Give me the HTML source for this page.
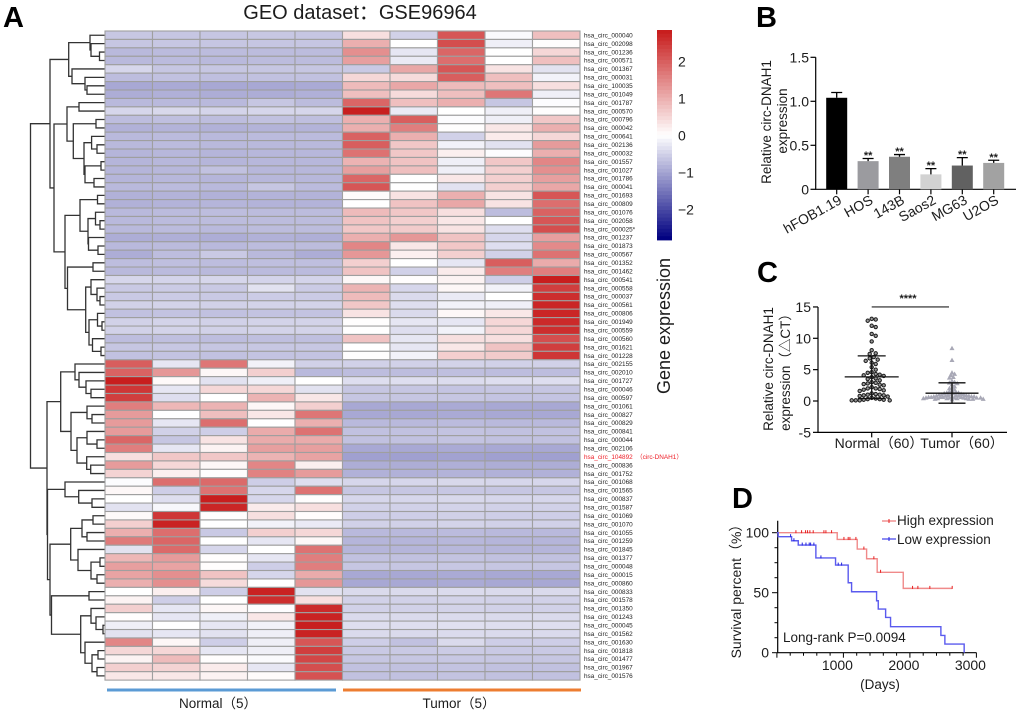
<!DOCTYPE html>
<html lang="en">
<head>
<meta charset="utf-8">
<title>circ-DNAH1 expression figure</title>
<style>
html,body{margin:0;padding:0;background:#fff;}
body{width:1020px;height:712px;overflow:hidden;}
svg{display:block;position:absolute;left:0;top:0;filter:blur(0.3px);}
text{font-family:"Liberation Sans","Noto Sans CJK SC",sans-serif;fill:#1c1c1c;}
.panel{font-weight:bold;font-size:29px;fill:#000;}
</style>
</head>
<body>
<svg id="fig" xmlns="http://www.w3.org/2000/svg" width="1020" height="712" viewBox="0 0 1020 712">
  <text class="panel" x="3" y="27">A</text>
  <text class="panel" x="756" y="27">B</text>
  <text class="panel" x="757" y="282">C</text>
  <text class="panel" x="732" y="508">D</text>
  <text x="360" y="19" font-size="20" text-anchor="middle">GEO dataset：GSE96964</text>
  <g id="dendrogram" fill="none" stroke="#333" stroke-width="1.3"></g>
  <g id="heatmap"></g>
  <g id="rowlabels"></g>
  <rect x="107" y="688.5" width="229" height="3" fill="#5b9bd5"/>
  <rect x="343" y="688.5" width="238" height="3" fill="#ed7d31"/>
  <text x="218" y="708" font-size="13.5" text-anchor="middle">Normal（5）</text>
  <text x="459" y="708" font-size="13.5" text-anchor="middle">Tumor（5）</text>
  <g id="colorbar"></g>
  <text transform="translate(670,326) rotate(-90)" font-size="18" text-anchor="middle">Gene expression</text>

  <g id="panelB">
    <text transform="translate(771,122) rotate(-90)" font-size="13.5" text-anchor="middle">Relative circ-DNAH1</text>
    <text transform="translate(787,121) rotate(-90)" font-size="13.5" text-anchor="middle">expression</text>
  </g>
  <g id="panelC">
    <text transform="translate(773,369) rotate(-90)" font-size="13.5" text-anchor="middle">Relative circ-DNAH1</text>
    <text transform="translate(790,369) rotate(-90)" font-size="13.5" text-anchor="middle">expression（△CT）</text>
    <text x="908" y="302" font-size="11" font-weight="bold" text-anchor="middle">****</text>
  </g>
  <g id="panelD">
    <text transform="translate(741,588) rotate(-90)" font-size="14" text-anchor="middle">Survival percent（%）</text>
    <text x="880" y="689" font-size="13.5" text-anchor="middle">(Days)</text>
    <text x="783" y="642" font-size="13.5">Long-rank P=0.0094</text>
    <line x1="882" x2="896" y1="521" y2="521" stroke="#f08a8a" stroke-width="1.4"/>
    <line x1="889" x2="889" y1="519" y2="523" stroke="#e82020" stroke-width="1"/>
    <text x="897" y="525" font-size="13.5">High expression</text>
    <line x1="882" x2="896" y1="539" y2="539" stroke="#5a5aee" stroke-width="1.4"/>
    <line x1="889" x2="889" y1="537" y2="541" stroke="#2020e0" stroke-width="1"/>
    <text x="897" y="544" font-size="13.5">Low expression</text>
  </g>
</svg>
<script>
// ---------- Heatmap data ----------
const rowLabels = ["hsa_circ_000040","hsa_circ_002098","hsa_circ_001236","hsa_circ_000571","hsa_circ_001367","hsa_circ_000031","hsa_circ_100035","hsa_circ_001049","hsa_circ_001787","hsa_circ_000570","hsa_circ_000796","hsa_circ_000042","hsa_circ_000641","hsa_circ_002136","hsa_circ_000032","hsa_circ_001557","hsa_circ_001027","hsa_circ_001786","hsa_circ_000041","hsa_circ_001693","hsa_circ_000809","hsa_circ_001076","hsa_circ_002058","hsa_circ_000025*","hsa_circ_001237","hsa_circ_001873","hsa_circ_000567","hsa_circ_001352","hsa_circ_001462","hsa_circ_000541","hsa_circ_000558","hsa_circ_000037","hsa_circ_000561","hsa_circ_000806","hsa_circ_001949","hsa_circ_000559","hsa_circ_000560","hsa_circ_001621","hsa_circ_001228","hsa_circ_002155","hsa_circ_002010","hsa_circ_001727","hsa_circ_000046","hsa_circ_000597","hsa_circ_001061","hsa_circ_000827","hsa_circ_000829","hsa_circ_000841","hsa_circ_000044","hsa_circ_002106","hsa_circ_104892\u00a0\u00a0（circ-DNAH1）","hsa_circ_000836","hsa_circ_001752","hsa_circ_001068","hsa_circ_001565","hsa_circ_000837","hsa_circ_001587","hsa_circ_001069","hsa_circ_001070","hsa_circ_001055","hsa_circ_001259","hsa_circ_001845","hsa_circ_001377","hsa_circ_000048","hsa_circ_000015","hsa_circ_000860","hsa_circ_000833","hsa_circ_001578","hsa_circ_001350","hsa_circ_001243","hsa_circ_000045","hsa_circ_001562","hsa_circ_001630","hsa_circ_001818","hsa_circ_001477","hsa_circ_001967","hsa_circ_001576"];
const heatValues = [
[-.62,-.63,-.63,-.62,-.63,.4,-.5,2.1,-.05,.8],
[-.63,-.62,-.63,-.63,-.63,1,0,2.2,-.18,.03],
[-.77,-.75,-.74,-.74,-.74,1.4,-.27,1.9,0,.5],
[-.77,-.75,-.77,-.74,-.74,1.2,-.23,1.8,0,.8],
[-.45,-.63,-.63,-.63,-.63,-.59,1.1,2.1,.35,-.32],
[-.72,-.68,-.7,-.68,-.68,.5,.45,2,.8,-.14],
[-.95,-.93,-.95,-.95,-.93,.85,1.1,.85,.8,.4],
[-.9,-.87,-.9,-.9,-.87,.8,.45,.8,1.7,-.18],
[-.77,-.77,-.77,-.63,-.74,1.9,.8,1,-.63,-.03],
[-.45,-.43,-.47,-.45,-.45,2.8,-.23,0,-.18,.03],
[-.72,-.7,-.72,-.68,-.7,1,2,-.03,-.18,.7],
[-.86,-.84,-.86,-.84,-.84,1,1.6,.03,.3,1],
[-.77,-.75,-.77,-.75,-.75,1.95,1,-.5,.25,.5],
[-.77,-.75,-.77,-.77,-.77,2,.7,-.14,-.32,1.25],
[-.81,-.79,-.81,-.79,-.79,1.75,.7,.2,-.03,1],
[-.81,-.79,-.81,-.79,-.79,.95,.75,-.18,.7,1.5],
[-.81,-.79,-.68,-.79,-.79,1.2,.8,-.18,.6,1.4],
[-.81,-.79,-.81,-.79,-.79,1.9,0,.3,.6,1.2],
[-.77,-.75,-.77,-.63,-.75,2.1,0,-.32,.6,1.1],
[-.86,-.84,-.86,-.84,-.84,.05,.35,1,.35,2.1],
[-.86,-.84,-.81,-.84,-.84,0,.75,1.1,.35,1.8],
[-.77,-.75,-.72,-.74,-.74,.85,.7,.4,-.72,1.95],
[-.77,-.75,-.74,-.74,-.74,.75,.6,.3,0,2.1],
[-.77,-.75,-.77,-.74,-.74,.7,.65,.35,-.36,2.2],
[-.9,-.88,-.9,-.86,-.88,1,1.3,.75,-.45,1.2],
[-.77,-.75,-.77,-.74,-.74,1.5,.3,.7,-.36,1.45],
[-.9,-.72,-.59,-.77,-.9,1.3,.2,.6,-.5,1.75],
[-.72,-.7,-.72,-.7,-.7,.6,0,-.27,2,1.05],
[-.77,-.75,-.77,-.75,-.75,.75,-.5,.25,1.6,1.6],
[-.45,-.47,-.45,-.47,-.47,.1,.02,.15,-.54,2.8],
[-.59,-.57,-.59,-.32,-.57,.95,-.45,.1,-.14,2.4],
[-.59,-.57,-.59,-.56,-.57,.85,-.41,-.23,0,2.6],
[-.5,-.48,-.5,-.48,-.48,.7,-.36,-.14,-.18,2.7],
[-.68,-.66,-.68,-.66,-.66,.35,-.41,.1,.3,2.7],
[-.5,-.48,-.5,-.48,-.48,.02,-.27,-.27,.5,2.65],
[-.5,-.48,-.5,-.48,-.48,.01,-.36,-.14,.5,2.6],
[-.72,-.7,-.72,-.7,-.7,.75,-.27,.4,.4,2.2],
[-.63,-.61,-.63,-.61,-.61,0,-.27,.3,.75,2.4],
[-.68,-.66,-.68,-.66,-.66,.03,-.14,.6,.65,2.5],
[2,-.27,1.7,-.14,-.5,-.5,-.5,-.48,-.5,-.5],
[1.95,1.3,.1,.6,-.77,-.72,-.72,-.7,-.72,-.72],
[2.8,.07,-.32,-.18,0,-.36,-.36,-.38,-.36,-.36],
[2.5,-.27,.5,.5,-.32,-.63,-.63,-.65,-.63,-.63],
[2.4,-.36,0,.95,.3,-.63,-.63,-.63,-.65,-.65],
[1.6,.9,.95,.1,.6,-.95,-.95,-.93,-.95,-.95],
[1.25,0,.8,.3,1.7,-.95,-.95,-.93,-.95,-.95],
[1.25,-.27,1.8,0,1,-.77,-.77,-.75,-.77,-.77],
[1.25,-.5,-.54,1.05,1.75,-.68,-.68,-.66,-.68,-.68],
[1.9,-.63,.35,1.05,1.05,-.68,-.68,-.66,-.68,-.68],
[1.6,-.27,.15,1.2,1.2,-.95,-.95,-.93,-.95,-.95],
[.4,.7,.7,.95,1.15,-1.04,-1.04,-1.02,-1.04,-1.04],
[1.25,.5,.1,1.5,.2,-.9,-.9,-.88,-.9,-.9],
[.55,.2,.03,1.55,1.25,-.86,-.86,-.84,-.86,-.86],
[-.03,1.8,1.85,-.54,-.36,-.45,-.45,-.43,-.45,-.45],
[.1,-.54,1.75,-.45,1.75,-.63,-.63,-.61,-.63,-.63],
[0,-.36,2.8,-.45,.03,-.45,-.45,-.43,-.45,-.45],
[-.32,-.09,2.7,.25,.4,-.5,-.5,-.48,-.5,-.5],
[.08,2.5,.02,.4,.02,-.54,-.54,-.52,-.54,-.54],
[.6,2.75,0,-.14,-.23,-.5,-.5,-.48,-.5,-.5],
[1,1.8,-.59,.6,.5,-.77,-.77,-.75,-.77,-.77],
[1.65,1.9,0,-.27,.1,-.81,-.81,-.79,-.81,-.81],
[-.32,1.85,-.45,0,1.75,-.81,-.81,-.79,-.81,-.81],
[.9,1.25,.02,-.27,1.6,-.68,-.68,-.66,-.68,-.68],
[1.2,1.15,.02,-.54,1.6,-.63,-.63,-.61,-.63,-.63],
[1.15,1.4,.75,-.45,1.05,-.95,-.95,-.93,-.95,-.95],
[1,1.4,.45,0,1.3,-.95,-.95,-.93,-.95,-.95],
[0,.2,-.54,2.75,-.32,-.41,-.41,-.39,-.41,-.41],
[.15,-.54,0,2.6,.4,-.5,-.5,-.48,-.5,-.5],
[.6,-.27,.1,-.02,2.65,-.5,-.5,-.48,-.5,-.5],
[.02,-.27,-.18,.3,2.75,-.41,-.41,-.39,-.41,-.41],
[-.18,0,-.27,-.14,2.8,-.36,-.36,-.34,-.36,-.36],
[-.32,-.27,-.32,-.18,2.75,-.41,-.41,-.39,-.41,-.41],
[1.5,.1,-.54,-.18,2.1,-.54,-.68,-.41,-.54,-.54],
[.5,.5,-.27,-.18,2.4,-.59,-.59,-.57,-.59,-.59],
[.15,.85,.02,-.05,2.3,-.63,-.63,-.61,-.63,-.63],
[.6,.55,.25,-.27,2.2,-.68,-.68,-.66,-.68,-.68],
[.3,.3,.15,.05,2.15,-.68,-.68,-.66,-.68,-.68]
];
const highlightedRow = 50;
const colorbarTicks = [2, 1, 0, -1, -2];
const colorbarTickLabels = ["2", "1", "0", "−1", "−2"];
// Dendrogram: [merge distance, left, right]; 0 is a leaf, consumed in row order.
const dendrogramTree = [74.5,
 [55,
  [36.3,[15,0,[14,0,[5.5,0,0]]],[33,0,[20,0,[18,0,0]]]],
  [51,
   [38,[26,0,0],[31.7,[9,0,0],[21,[13.4,0,[8,0,0]],[20,[4,0,0],[11,0,0]]]]],
   [40,
    [25,[7.5,0,0],[17,[9.5,0,[5,0,0]],[16.5,0,[7,0,0]]]],
    [37.5,[12,0,0],[19.3,[14,0,[8,0,[5,0,0]]],[16,[7.5,0,[3,0,0]],[12.5,0,[4,0,0]]]]]]]],
 [58,
  [44.3,[30,0,[26,0,[19,0,[14,0,0]]]],[34,[18,0,[13,0,0]],[28,[18,0,[8,0,0]],[18.3,0,[14.3,0,0]]]]],
  [57.5,
   [40,0,[26.3,0,[13,0,0]]],
   [55,
    [34.3,[23,[12,0,0],[18,0,0]],[27,0,[14,[5,0,0],[8,0,0]]]],
    [53.5,[16,0,0],[24.3,[14,0,[9,0,[2,0,0]]],[20,0,[13,[7,0,0],[8,0,0]]]]]]]]];

// ---------- Panel B data ----------
const barCategories = ["hFOB1.19", "HOS", "143B", "Saos2", "MG63", "U2OS"];
const barMeans = [1.04, 0.32, 0.37, 0.17, 0.27, 0.30];
const barUpperErrors = [1.10, 0.35, 0.395, 0.235, 0.36, 0.33];
const barSignificance = ["", "**", "**", "**", "**", "**"];
const barColors = ["#000000", "#9b9b9f", "#7f7f7f", "#d2d2d2", "#616161", "#a2a2a2"];
const barYTicks = [0, 0.5, 1, 1.5];
const barYTickLabels = ["0", "0.5", "1.0", "1.5"];

// ---------- Panel C data ----------
const scatterGroups = ["Normal（60）", "Tumor（60）"];
const normalValues = [13.1,13,12.8,12,11.8,10.7,10.4,9.5,8.1,7.6,7.5,7,6.8,6.6,6.4,6.1,5.9,5.4,5,4.6,4.5,4.3,4.2,4.1,4,3.8,3.6,3.5,3.3,3,2.9,2.8,2.7,2.6,2.5,2.2,2,2,1.9,1.8,1.7,1.6,1.2,1.1,1,1,.9,.9,.8,.7,.5,.4,.3,.3,.2,.2,.1,.1,.1,.1];
const tumorValues = [8.4,6.5,4.5,4.3,4.1,3.8,3.7,3.2,3,2.9,2.8,2.6,2.3,2.1,2,1.8,1.6,1.5,1.4,1.3,1.3,1.2,1.2,1.1,1.1,1,1,1,.9,.9,.9,.8,.8,.8,.8,.7,.7,.7,.7,.6,.6,.6,.6,.6,.5,.5,.5,.5,.5,.5,.4,.4,.4,.4,.4,.3,.3,.3,.3,.2];
const scatterMeans = [3.85, 1.25];
const scatterUpperSD = [7.2, 2.9];
const scatterLowerSD = [0.4, -0.35];
const scatterYTicks = [-5, 0, 5, 10, 15];
const scatterBracketValue = 15;

// ---------- Panel D data ----------
const highTimes = [0, 907, 1208, 1349, 1508, 1900];
const highSurvival = [100, 94.4, 86.4, 78.3, 67, 53.6];
const highEnd = 2636;
const highCensored = [286,371,431,461,496,546,707,737,822,1008,1072,1098,1188,1308,1458,1559,2040,2120,2300,2636];
const lowTimes = [0, 20, 221, 321, 586, 882, 1072, 1123, 1499, 1524, 1635, 1709, 2466, 2526, 2816];
const lowSurvival = [100, 96.7, 93.3, 89.7, 79, 73, 58.3, 50.8, 43.3, 36.4, 29.4, 21.7, 14.4, 7.2, 0];
const lowEnd = 2816;
const lowCensored = [206,256,381,437,486,507,556,662,922,973];
const survivalYTicks = [0, 50, 100];
const survivalXTicks = [1000, 2000, 3000];

// ---------- helpers ----------
const NS = "http://www.w3.org/2000/svg";
function mk(tag, attrs, parent, txt) {
  const e = document.createElementNS(NS, tag);
  for (const k in attrs) e.setAttribute(k, attrs[k]);
  if (txt !== undefined) e.textContent = txt;
  parent.appendChild(e);
  return e;
}
const byId = id => document.getElementById(id);
function heatColor(v) {
  const t = Math.min(1, Math.abs(v) / 2.8);
  const mix = (a, b) => Math.round(a + (b - a) * t);
  return v >= 0
    ? `rgb(${mix(255, 200)},${mix(255, 30)},${mix(255, 30)})`
    : `rgb(${mix(255, 0)},${mix(255, 0)},${mix(255, 128)})`;
}

// ---------- Heatmap ----------
const heatLeft = 105, heatTop = 31, cellW = 47.5, rowH = 8.43;
const colX = c => heatLeft + c * cellW;
const rowY = r => heatTop + r * rowH;
const heatG = byId("heatmap"), labelG = byId("rowlabels");
heatValues.forEach((row, r) => {
  row.forEach((v, c) => {
    const cell = mk("rect", {x: colX(c), y: rowY(r), width: cellW, height: rowH, fill: heatColor(v), stroke: "#9f9f9f", "stroke-width": 1.1}, heatG);
    
    
  });
  const red = r === highlightedRow;
  const lab = mk("text", {x: 584, y: rowY(r) + rowH / 2 + 2.2, "font-size": 6.4, style: red ? "fill:#ee1c25" : "fill:#222"}, labelG, rowLabels[r]);
  
  
});

// ---------- Dendrogram ----------
let nextLeaf = 0;
const distX = d => heatLeft - d;
const dendroG = byId("dendrogram");
function drawNode(node) {
  if (node === 0) {
    const y = rowY(nextLeaf) + rowH / 2;
    nextLeaf++;
    return {x: heatLeft, y};
  }
  const a = drawNode(node[1]), b = drawNode(node[2]);
  const x = distX(node[0]);
  const branch = mk("path", {d: `M${a.x} ${a.y}H${x}V${b.y}H${b.x}`}, dendroG);
  
  
  return {x, y: (a.y + b.y) / 2};
}
drawNode(dendrogramTree);

// ---------- Colorbar ----------
const cbG = byId("colorbar");
const cbX = 657, cbW = 15, cbTop = 30, cbBottom = 240, cbZero = 135.5, cbUnit = 37;
const cbBands = 56;
for (let i = 0; i < cbBands; i++) {
  const yTop = cbTop + (cbBottom - cbTop) * i / cbBands;
  const yBot = cbTop + (cbBottom - cbTop) * (i + 1) / cbBands;
  const band = mk("rect", {x: cbX, y: yTop, width: cbW, height: yBot - yTop + .4, fill: heatColor((cbZero - (yTop + yBot) / 2) / cbUnit)}, cbG);
  
  
}
colorbarTicks.forEach((t, i) => {
  const lab = mk("text", {x: 678, y: cbZero - t * cbUnit + 5, "font-size": 14}, cbG, colorbarTickLabels[i]);
  
  
});

// ---------- Panel B ----------
const gB = byId("panelB");
const bY = v => 189.3 - v * 88;
const bX = i => 836.7 + i * 31.4;
const axisB = mk("path", {d: `M815.7 ${bY(1.5)}V${bY(0)}H1016`, fill: "none", stroke: "#000", "stroke-width": 1.2}, gB);


barYTicks.forEach((t, i) => {
  const tick = mk("line", {x1: 810.5, x2: 815.7, y1: bY(t), y2: bY(t), stroke: "#000", "stroke-width": 1.2}, gB);
  
  
  const lab = mk("text", {x: 809, y: bY(t) + 5, "font-size": 14, "text-anchor": "end"}, gB, barYTickLabels[i]);
  
  
});
barCategories.forEach((cat, i) => {
  const x = bX(i), hw = 10.5;
  const bar = mk("rect", {x: x - hw, y: bY(barMeans[i]), width: 2 * hw, height: bY(0) - bY(barMeans[i]), fill: barColors[i]}, gB);
  
  
  const err = mk("path", {d: `M${x} ${bY(barMeans[i])}V${bY(barUpperErrors[i])}M${x - 5.5} ${bY(barUpperErrors[i])}H${x + 5.5}`, fill: "none", stroke: "#000", "stroke-width": 1.3}, gB);
  
  
  const tick = mk("line", {x1: x, x2: x, y1: bY(0), y2: bY(0) + 5, stroke: "#000", "stroke-width": 1.2}, gB);
  
  
  const lab = mk("text", {transform: `translate(${x + 6},203) rotate(-29)`, "font-size": 14, "text-anchor": "end"}, gB, cat);
  
  
  if (barSignificance[i]) {
    const st = mk("text", {x, y: bY(barUpperErrors[i]) + .5, "font-size": 11, "font-weight": "bold", "text-anchor": "middle"}, gB, barSignificance[i]);
    
    
  }
});

// ---------- Panel C ----------
const gC = byId("panelC");
const cY = v => 401 - v * 6.27;
const cCenters = [871.7, 952];
const axisC = mk("path", {d: `M818 ${cY(15)}V${cY(-5)}H1007`, fill: "none", stroke: "#000", "stroke-width": 1.2}, gC);


scatterYTicks.forEach(t => {
  const tick = mk("line", {x1: 813, x2: 818, y1: cY(t), y2: cY(t), stroke: "#000", "stroke-width": 1.2}, gC);
  
  
  const lab = mk("text", {x: 811, y: cY(t) + 5, "font-size": 14, "text-anchor": "end"}, gC, String(t));
  
  
});
const cLabelX = [879, 962];
scatterGroups.forEach((g, i) => {
  const tick = mk("line", {x1: cCenters[i], x2: cCenters[i], y1: cY(-5), y2: cY(-5) + 5, stroke: "#000", "stroke-width": 1.2}, gC);
  
  
  const lab = mk("text", {x: cLabelX[i], y: 448, "font-size": 14, "text-anchor": "middle"}, gC, g);
  
  
});
const bracket = mk("line", {x1: cCenters[0], x2: 949, y1: cY(scatterBracketValue), y2: cY(scatterBracketValue), stroke: "#222", "stroke-width": 1.1}, gC);


function swarm(values, cx, minDist) {
  const placed = [];
  values.forEach(v => {
    const y = cY(v);
    for (let k = 0; k < 80; k++) {
      const off = (k % 2 ? 1 : -1) * Math.ceil(k / 2) * minDist / 2;
      if (placed.every(p => Math.hypot(p.x - (cx + off), p.y - y) >= minDist)) {
        placed.push({x: cx + off, y});
        break;
      }
    }
  });
  return placed;
}
swarm(normalValues, cCenters[0], 4).forEach(p => {
  const dot = mk("circle", {cx: p.x, cy: p.y, r: 1.7, fill: "#9a9a9a", stroke: "#1c1c1c", "stroke-width": 1}, gC);
  
  
});
swarm(tumorValues, cCenters[1], 2.6).forEach(p => {
  const tri = mk("path", {d: `M${p.x} ${p.y - 2.6}L${p.x + 2.5} ${p.y + 1.8}H${p.x - 2.5}Z`, fill: "#a8a8b6"}, gC);
  
  
});
const summaryHalf = [27, 26.5], sdHalf = [14, 13.5];
cCenters.forEach((cx, i) => {
  const up = scatterUpperSD[i], lo = scatterLowerSD[i], m = scatterMeans[i];
  const s = mk("path", {d: `M${cx} ${cY(up)}V${cY(lo)}M${cx - sdHalf[i]} ${cY(up)}H${cx + sdHalf[i]}M${cx - sdHalf[i]} ${cY(lo)}H${cx + sdHalf[i]}M${cx - summaryHalf[i]} ${cY(m)}H${cx + summaryHalf[i]}`, fill: "none", stroke: "#111", "stroke-width": 1.3}, gC);
  
  
});

// ---------- Panel D ----------
const gD = byId("panelD");
const dX = t => 776.9 + t * 0.0665;
const dY = s => 652.7 - s * 1.2;
const axisD = mk("path", {d: `M777.7 520.7V${dY(0)}H976.5`, fill: "none", stroke: "#000", "stroke-width": 1.2}, gD);


for (let s = 0; s <= 110; s += 12.5) {
  const major = s % 50 === 0;
  const t = mk("line", {x1: major ? 772 : 774.5, x2: 777.7, y1: dY(s), y2: dY(s), stroke: "#000", "stroke-width": 1}, gD);
  
  
}
for (let d = 0; d <= 3000; d += 200) {
  const major = d % 1000 === 0;
  const t = mk("line", {x1: dX(d), x2: dX(d), y1: dY(0), y2: dY(0) + (major ? 5 : 3), stroke: "#000", "stroke-width": 1}, gD);
  
  
}
survivalYTicks.forEach(s => {
  const lab = mk("text", {x: 769, y: dY(s) + 5, "font-size": 14, "text-anchor": "end"}, gD, String(s));
  
  
});
survivalXTicks.forEach(d => {
  const lab = mk("text", {x: dX(d) - 6, y: 670, "font-size": 14, "text-anchor": "middle"}, gD, String(d));
  
  
});
function stepPath(times, surv, end) {
  let d = `M${dX(times[0])} ${dY(surv[0])}`;
  for (let i = 1; i < times.length; i++) d += `H${dX(times[i])}V${dY(surv[i])}`;
  return d + `H${dX(end)}`;
}
function survAt(times, surv, t) {
  let s = surv[0];
  times.forEach((tt, i) => { if (t >= tt) s = surv[i]; });
  return s;
}
const highCurve = mk("path", {d: stepPath(highTimes, highSurvival, highEnd), fill: "none", stroke: "#f08a8a", "stroke-width": 1.4}, gD);


const lowCurve = mk("path", {d: stepPath(lowTimes, lowSurvival, lowEnd), fill: "none", stroke: "#5a5aee", "stroke-width": 1.4}, gD);


highCensored.forEach(t => {
  const y = dY(survAt(highTimes, highSurvival, t));
  const c = mk("line", {x1: dX(t), x2: dX(t), y1: y - 2.5, y2: y + .5, stroke: "#e82020", "stroke-width": 1}, gD);
  
  
});
lowCensored.forEach(t => {
  const y = dY(survAt(lowTimes, lowSurvival, t));
  const c = mk("line", {x1: dX(t), x2: dX(t), y1: y - 2.5, y2: y + .5, stroke: "#2020e0", "stroke-width": 1}, gD);
  
  
});
</script>
</body>
</html>
